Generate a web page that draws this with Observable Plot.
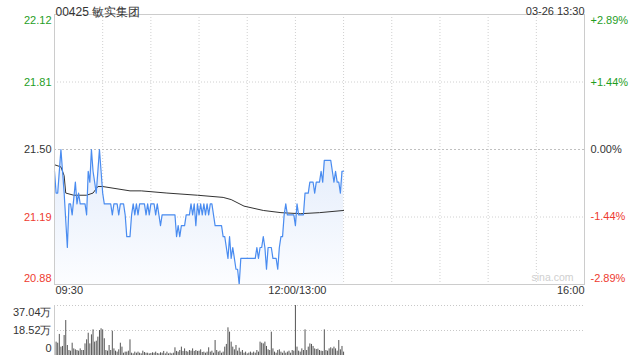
<!DOCTYPE html>
<html><head><meta charset="utf-8">
<script src="https://cdn.jsdelivr.net/npm/d3@7"></script>
<script src="https://cdn.jsdelivr.net/npm/@observablehq/plot@0.6"></script>
<style>
body{margin:0;background:#fff;}
#c svg{display:block;}
</style></head><body><div id="c"></div>
<script>
const title = "00425 敏实集团";
const stamp = "03-26 13:30";
const prevClose = 21.50;
const priceTicks = [20.88, 21.19, 21.50, 21.81, 22.12];
const pctTicks = [-2.89, -1.44, 0, 1.44, 2.89];
const timeLabels = ["09:30", "12:00/13:00", "16:00"];
const timeLabelMinutes = [0, 150, 330];
const gridMinutes = [30, 60, 90, 120, 150, 180, 210, 240, 270, 300];
const minutes = [0,1,2,4,5,6,8,9,10,11,13,14,15,16,19,20,21,22,23,24,26,27,28,29,30,31,35,36,37,39,40,41,43,44,45,47,48,49,50,51,52,53,56,57,58,59,60,62,63,64,65,66,67,75,76,77,78,79,81,82,84,85,86,87,88,89,90,91,92,93,94,95,96,97,98,100,104,105,106,107,108,109,110,111,112,113,114,115,116,124,125,126,127,128,129,130,131,132,133,135,136,138,139,140,141,142,143,144,145,149,150,151,152,155,156,158,159,161,162,163,165,166,167,168,172,173,174,175,176,177,178,179,180];
const prices = [21.40,21.30,21.30,21.50,21.40,21.30,21.05,21.25,21.25,21.20,21.35,21.25,21.30,21.25,21.25,21.20,21.40,21.35,21.50,21.40,21.30,21.40,21.50,21.40,21.30,21.25,21.25,21.20,21.25,21.25,21.20,21.25,21.25,21.20,21.10,21.10,21.20,21.25,21.20,21.25,21.20,21.25,21.25,21.20,21.25,21.20,21.25,21.25,21.20,21.25,21.20,21.15,21.20,21.20,21.10,21.15,21.10,21.15,21.15,21.20,21.20,21.25,21.20,21.25,21.15,21.25,21.20,21.25,21.20,21.25,21.20,21.25,21.20,21.25,21.25,21.15,21.15,21.10,21.10,21.05,21.00,21.10,21.00,21.05,21.00,20.95,20.95,20.88,21.00,21.00,21.00,21.05,21.00,21.05,21.05,21.10,21.05,20.95,21.05,21.05,21.00,21.00,20.95,21.05,21.10,21.10,21.20,21.25,21.20,21.20,21.15,21.25,21.20,21.20,21.30,21.30,21.35,21.35,21.30,21.35,21.35,21.40,21.35,21.45,21.45,21.40,21.35,21.40,21.35,21.35,21.30,21.40,21.40];
const avgMinutes = [0,4,6,7,12,20,24,27,30,47,54,70,89,105,110,118,130,141,153,165,180];
const avgPrices = [21.43,21.42,21.38,21.30,21.29,21.29,21.30,21.33,21.33,21.31,21.31,21.30,21.29,21.28,21.27,21.24,21.22,21.21,21.205,21.21,21.22];
const volumes = [16.1,9.9,9.1,15.6,6.2,6.7,14.8,25.9,7.4,3.7,
3.2,9.1,4.9,4.2,3.7,3.2,4.9,3.7,3.7,8.6,
11.6,16.5,8.6,15.3,19.0,9.9,10.6,13.6,18.5,19.8,
19.0,12.4,3.7,3.2,7.4,3.7,18.0,4.9,3.2,2.5,
4.2,9.1,6.2,1.7,2.5,2.5,3.2,11.6,1.7,1.2,
2.5,1.7,2.5,1.7,1.2,3.2,2.2,1.7,1.7,1.2,
1.5,2.0,
1.7,2.5,1.5,1.2,2.0,1.7,3.0,1.2,2.5,1.2,
1.7,1.2,1.7,5.7,3.0,2.5,3.7,6.2,3.0,4.9,
3.0,2.5,3.7,3.2,4.9,3.0,3.7,3.0,3.2,4.2,
2.2,
2.5,1.7,2.5,5.7,2.5,3.2,1.7,11.1,3.7,2.5,
3.2,1.7,2.5,6.2,8.2,20.5,17.3,9.9,6.2,4.2,
7.4,3.2,5.4,2.5,3.7,1.7,2.5,1.2,
1.8,2.5,
1.7,2.5,1.7,3.7,2.5,9.9,9.1,8.6,9.9,6.7,4.2,3.7,17.3,4.9,2.5,1.7,3.7,4.2,2.5,1.7,3.2,1.7,2.5,3.2,1.7,3.7,3.2,
37.04,
6.2,3.2,2.5,4.9,3.7,19.0,3.7,6.2,8.6,8.2,6.7,4.9,4.4,4.7,3.7,3.2,3.0,19.0,3.7,3.2,4.9,5.7,4.9,6.2,4.9,3.2,11.1,4.2,6.7,2.5];
const volTicks = [0, 18.52, 37.04];
const volLabels = ["0", "18.52万", "37.04万"];

const W = 640, ML = 54, MR = 56;
const green = "#1f9e1f", red = "#ee3b30", dark = "#333";
const font = "'Liberation Sans', Arial, sans-serif";
const colorOf = v => v > prevClose + 1e-9 ? green : v < prevClose - 1e-9 ? red : dark;
const priceData = minutes.map((m, i) => ({m, p: prices[i]}));
const avgData = avgMinutes.map((m, i) => ({m, p: avgPrices[i]}));
const yDomain = [priceTicks[0], priceTicks[priceTicks.length - 1]];
const pctPos = p => prevClose * (1 + p / 100);
const pctText = p => (p > 0 ? "+" : "") + p.toFixed(2) + "%";
const innerTicks = priceTicks.slice(1, -1);
const innerPct = pctTicks.slice(1, -1);
const anchors = ["start", "middle", "end"];

const main = Plot.plot({
  width: W, height: 300, marginLeft: ML, marginRight: MR, marginTop: 14, marginBottom: 16,
  x: {domain: [0, 330], axis: null},
  y: {domain: yDomain, axis: null},
  style: {fontFamily: font, fontSize: "11px", background: "#fff", overflow: "visible"},
  marks: [
    Plot.ruleX(gridMinutes, {stroke: "#d0d0d0", strokeDasharray: "1,2"}),
    Plot.ruleY(innerTicks.filter(v => v !== prevClose), {stroke: "#d0d0d0", strokeDasharray: "1,2"}),
    Plot.ruleY([prevClose], {stroke: "#c0c0c0", strokeDasharray: "2,2"}),
    Plot.areaY(priceData, {x: "m", y1: yDomain[0], y2: "p", fill: "url(#pg)"}),
    Plot.line(avgData, {x: "m", y: "p", stroke: "#333", strokeWidth: 1}),
    Plot.line(priceData, {x: "m", y: "p", stroke: "#4a8cf0", strokeWidth: 1.2}),
    Plot.frame({stroke: "#ccc"}),
    // left price labels
    Plot.text(innerTicks, {frameAnchor: "left", y: d => d, text: d => d.toFixed(2), fill: d => colorOf(d), textAnchor: "end", dx: -3}),
    Plot.text([priceTicks[priceTicks.length - 1]], {frameAnchor: "left", y: d => d, text: d => d.toFixed(2), fill: d => colorOf(d), textAnchor: "end", dx: -3, dy: 6}),
    Plot.text([priceTicks[0]], {frameAnchor: "left", y: d => d, text: d => d.toFixed(2), fill: d => colorOf(d), textAnchor: "end", dx: -3, dy: -6}),
    // right pct labels
    Plot.text(innerPct, {frameAnchor: "right", y: d => pctPos(d), text: d => pctText(d), fill: d => colorOf(pctPos(d)), textAnchor: "start", dx: 6}),
    Plot.text([pctTicks[pctTicks.length - 1]], {frameAnchor: "right", y: d => pctPos(d), text: d => pctText(d), fill: d => colorOf(pctPos(d)), textAnchor: "start", dx: 6, dy: 6}),
    Plot.text([pctTicks[0]], {frameAnchor: "right", y: d => pctPos(d), text: d => pctText(d), fill: d => colorOf(pctPos(d)), textAnchor: "start", dx: 6, dy: -6}),
    // header
    Plot.text([title], {frameAnchor: "top-left", textAnchor: "start", dx: 1, dy: -7, fontSize: 12, fill: dark}),
    Plot.text([stamp], {frameAnchor: "top-right", textAnchor: "end", dy: -7, fontSize: 11, fill: dark}),
    // time labels
    ...timeLabels.map((t, i) => Plot.text([t], {x: timeLabelMinutes[i], frameAnchor: "bottom", textAnchor: anchors[i], dy: 9, dx: i === 0 ? 1 : (i === 1 ? 2 : 0), fill: dark})),
    // watermark
    Plot.text(["sina.com"], {frameAnchor: "bottom-right", textAnchor: "end", dx: -11, dy: -4, fill: "#cfcfcf", fontSize: 10.5})
  ]
});

d3.select(main).insert("defs", ":first-child").html(
  '<linearGradient id="pg" x1="0" y1="0" x2="0" y2="1">' +
  '<stop offset="0" stop-color="#e3ecfb"/>' +
  '<stop offset="1" stop-color="#fcfdff"/>' +
  '</linearGradient>');

const volData = volumes.map((v, i) => ({i, v}));
const vol = Plot.plot({
  width: W, height: 60, marginLeft: ML, marginRight: MR, marginTop: 5, marginBottom: 5,
  x: {domain: [0, 330], axis: null},
  y: {domain: [0, volTicks[volTicks.length - 1]], axis: null},
  style: {fontFamily: font, fontSize: "11px", background: "#fff", overflow: "visible"},
  marks: [
    Plot.ruleY(volTicks.slice(1), {stroke: "#c8c8c8", strokeDasharray: "1,2"}),
    Plot.ruleX(volData, {x: "i", y1: 0, y2: "v", stroke: "#555", strokeWidth: 1}),
    Plot.ruleX([0], {stroke: "#ccc"}),
    Plot.text([volTicks[1]], {frameAnchor: "left", y: d => d, text: () => volLabels[1], textAnchor: "end", dx: -3, fill: dark}),
    Plot.text([volTicks[2]], {frameAnchor: "left", y: d => d, text: () => volLabels[2], textAnchor: "end", dx: -3, dy: 6.5, fill: dark}),
    Plot.text([volTicks[0]], {frameAnchor: "left", y: d => d, text: () => volLabels[0], textAnchor: "end", dx: -3, dy: -7, fill: dark})
  ]
});

document.getElementById("c").append(main, vol);
</script></body></html>
